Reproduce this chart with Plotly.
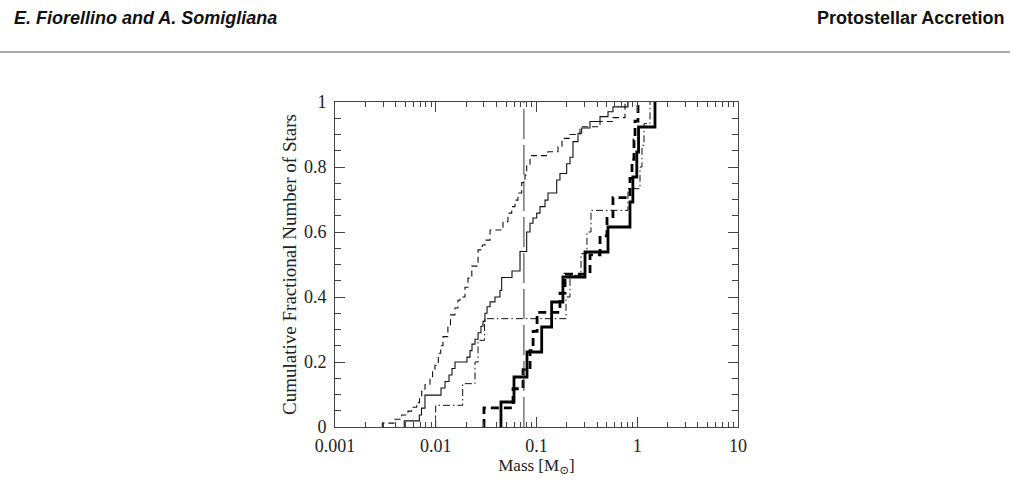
import plotly.graph_objects as go

# ---------------- data ----------------
# Thick solid: 13 objects, masses where the cumulative curve steps up
thick_solid_mass = [0.0444, 0.0598, 0.0805, 0.1126, 0.1413, 0.1829, 0.303,
                    0.5125, 0.847, 0.905, 0.99, 1.03, 1.50]
# Thick dashed: 17 objects
thick_dash_mass = [0.0301, 0.0585, 0.0735, 0.0863, 0.0925, 0.1013, 0.171,
                   0.192, 0.3397, 0.427, 0.501, 0.574, 0.847, 0.887, 0.928,
                   0.950, 1.017]
# Thin dash-dot: 15 objects
thin_dashdot_mass = [0.00998, 0.0185, 0.02453, 0.0263, 0.0305, 0.1963, 0.215,
                     0.2765, 0.317, 0.3475, 0.809, 1.065, 1.114, 1.167, 1.339]

# Thin dashed: step masses and cumulative levels
thin_dash_mass = [0.00295, 0.00394, 0.00459, 0.00530, 0.00577, 0.00647, 0.00690,
                  0.00725, 0.00782, 0.00877, 0.00930, 0.00983, 0.0106, 0.0112,
                  0.0118, 0.0132, 0.0140, 0.0155, 0.0166, 0.0174, 0.0195, 0.0209,
                  0.0228, 0.0263, 0.0290, 0.0308, 0.0346, 0.0465, 0.0521, 0.0568,
                  0.0612, 0.0655, 0.0713, 0.0769, 0.0799, 0.0862, 0.130, 0.1635,
                  0.179, 0.215, 0.270, 0.427, 0.574, 0.756]
thin_dash_level = [0.012, 0.024, 0.037, 0.049, 0.061, 0.075, 0.090,
                   0.110, 0.130, 0.155, 0.172, 0.190, 0.227, 0.250,
                   0.278, 0.314, 0.345, 0.366, 0.390, 0.400, 0.430, 0.458,
                   0.495, 0.545, 0.560, 0.575, 0.606, 0.632, 0.658, 0.678,
                   0.698, 0.720, 0.752, 0.775, 0.806, 0.835, 0.847, 0.862,
                   0.888, 0.900, 0.924, 0.940, 0.952, 1.0]

# Thin solid: step masses and cumulative levels
thin_solid_mass = [0.00487, 0.00687, 0.00722, 0.00782, 0.01128, 0.01236, 0.01354,
                   0.0145, 0.01553, 0.02043, 0.02188, 0.0229, 0.02453, 0.0263,
                   0.0281, 0.02944, 0.0308, 0.0323, 0.0346, 0.0387, 0.0434,
                   0.0451, 0.0571, 0.0686, 0.0799, 0.0862, 0.0923, 0.1005,
                   0.1083, 0.1215, 0.130, 0.1587, 0.171, 0.1994, 0.215, 0.2303,
                   0.2582, 0.2810, 0.3397, 0.427, 0.5125, 0.574, 0.8094]
thin_solid_level = [0.019, 0.037, 0.058, 0.098, 0.120, 0.140, 0.160,
                    0.180, 0.200, 0.215, 0.235, 0.255, 0.270, 0.290,
                    0.310, 0.325, 0.350, 0.370, 0.385, 0.400, 0.420,
                    0.460, 0.480, 0.540, 0.600, 0.627, 0.643, 0.658,
                    0.678, 0.698, 0.720, 0.760, 0.780, 0.810, 0.830, 0.878,
                    0.904, 0.920, 0.940, 0.955, 0.970, 0.985, 1.0]

# Vertical reference line (hydrogen-burning limit)
hbl_mass = 0.075

x_tickvals = [0.001, 0.01, 0.1, 1, 10]
x_ticktext = ["0.001", "0.01", "0.1", "1", "10"]
y_tickvals = [0, 0.2, 0.4, 0.6, 0.8, 1.0]
y_ticktext = ["0", "0.2", "0.4", "0.6", "0.8", "1"]


def ecdf_levels(masses):
    n = len(masses)
    return [(i + 1) / n for i in range(n)]


def step_xy(masses, levels):
    return [masses[0]] + list(masses), [0.0] + list(levels)


fig = go.Figure()

curves = [
    (thin_dash_mass, thin_dash_level, dict(color="#111", width=1.1, dash="6px,4px")),
    (thin_solid_mass, thin_solid_level, dict(color="#111", width=1.1)),
    (thin_dashdot_mass, ecdf_levels(thin_dashdot_mass),
     dict(color="#111", width=1.0, dash="7px,3px,1.5px,3px")),
    (thick_dash_mass, ecdf_levels(thick_dash_mass),
     dict(color="#000", width=2.8, dash="8px,5px")),
    (thick_solid_mass, ecdf_levels(thick_solid_mass), dict(color="#000", width=2.8)),
]
for m, lv, ln in curves:
    xs, ys = step_xy(m, lv)
    fig.add_trace(go.Scatter(x=xs, y=ys, mode="lines", line_shape="hv",
                             line=ln, hoverinfo="skip", showlegend=False))

fig.add_trace(go.Scatter(x=[hbl_mass, hbl_mass], y=[0, 1], mode="lines",
                         line=dict(color="#333", width=1, dash="30px,6px"),
                         hoverinfo="skip", showlegend=False))

serif = "Liberation Serif, DejaVu Serif, serif"
axis_col = "#444"

fig.update_xaxes(
    type="log", range=[-3, 1],
    tickvals=x_tickvals, ticktext=x_ticktext,
    ticks="inside", ticklen=10, tickwidth=1, tickcolor=axis_col,
    minor=dict(ticks="inside", ticklen=5, tickwidth=1, tickcolor=axis_col,
               dtick="D1", showgrid=False),
    showline=True, linecolor=axis_col, linewidth=1, mirror="ticks",
    showgrid=False, zeroline=False,
    tickfont=dict(family=serif, size=18, color="#222"),
    ticklabelstandoff=2,
    title=dict(text="Mass [M<sub>⊙</sub>]", font=dict(family=serif, size=17, color="#222"),
               standoff=2),
)
fig.update_yaxes(
    range=[0, 1],
    tickvals=y_tickvals, ticktext=y_ticktext,
    ticks="inside", ticklen=10, tickwidth=1, tickcolor=axis_col,
    minor=dict(ticks="inside", ticklen=6, tickwidth=1, tickcolor=axis_col,
               dtick=0.05, showgrid=False),
    showline=True, linecolor=axis_col, linewidth=1, mirror="ticks",
    showgrid=False, zeroline=False,
    tickfont=dict(family=serif, size=18, color="#222"),
    ticklabelstandoff=4,
    title=dict(text="Cumulative Fractional Number of Stars",
               font=dict(family=serif, size=19, color="#222"), standoff=2),
)

# page header (paper coords relative to plot area: x 335..738 px, y 427..102 px)
W0, W1, H0, H1 = 335.0, 738.0, 427.0, 102.0
px = lambda X: (X - W0) / (W1 - W0)
py = lambda Y: (H0 - Y) / (H0 - H1)

fig.add_annotation(text="<b><i>E. Fiorellino and A. Somigliana</i></b>",
                   xref="paper", yref="paper", x=px(12), y=py(18),
                   xanchor="left", yanchor="middle", showarrow=False,
                   font=dict(family="Liberation Sans Narrow, Liberation Sans, Arial",
                             size=18, color="#111"))
fig.add_annotation(text="<b>Protostellar Accretion</b>",
                   xref="paper", yref="paper", x=px(1006), y=py(18),
                   xanchor="right", yanchor="middle", showarrow=False,
                   font=dict(family="Liberation Sans Narrow, Liberation Sans, Arial",
                             size=18, color="#111"))
fig.add_shape(type="line", xref="paper", yref="paper",
              x0=px(0), x1=px(1010), y0=py(52), y1=py(52),
              line=dict(color="#555", width=1))

fig.update_layout(
    width=1018, height=482,
    margin=dict(l=335, r=280, t=102, b=55),
    paper_bgcolor="white", plot_bgcolor="white",
    showlegend=False,
)

fig.write_html("out.html")
